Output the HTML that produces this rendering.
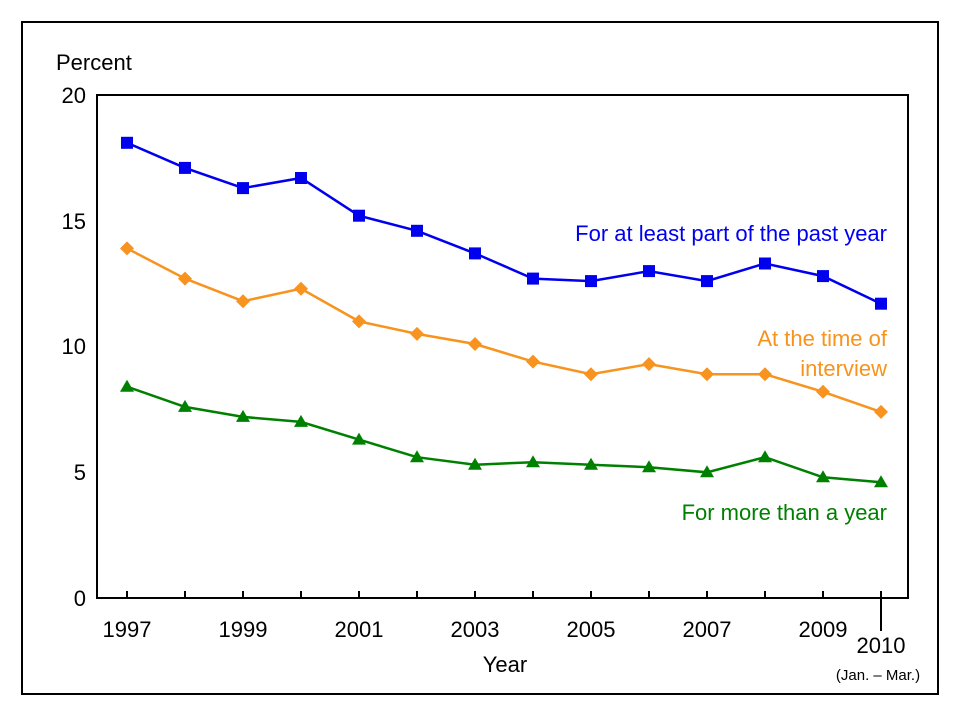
<!DOCTYPE html>
<html><head><meta charset="utf-8"><style>body{margin:0;background:#fff}svg{display:block}</style></head><body>
<svg width="960" height="720" xmlns="http://www.w3.org/2000/svg" xmlns:xlink="http://www.w3.org/1999/xlink" font-family="Liberation Sans, sans-serif">
<defs>
<rect id="sq" x="-6" y="-6" width="12" height="12" fill="#0000ee"/>
<polygon id="di" points="0,-7 7,0 0,7 -7,0" fill="#f7931e"/>
<polygon id="tr" points="0,-7 7,5 -7,5" fill="#008000"/>
</defs>
<rect x="22" y="22" width="916" height="672" fill="none" stroke="#000" stroke-width="2"/>
<rect x="97" y="95" width="811" height="503" fill="none" stroke="#000" stroke-width="2"/>
<g stroke="#000" stroke-width="2">
<line x1="127" y1="591" x2="127" y2="598"/><line x1="185" y1="591" x2="185" y2="598"/><line x1="243" y1="591" x2="243" y2="598"/><line x1="301" y1="591" x2="301" y2="598"/><line x1="359" y1="591" x2="359" y2="598"/><line x1="417" y1="591" x2="417" y2="598"/><line x1="475" y1="591" x2="475" y2="598"/><line x1="533" y1="591" x2="533" y2="598"/><line x1="591" y1="591" x2="591" y2="598"/><line x1="649" y1="591" x2="649" y2="598"/><line x1="707" y1="591" x2="707" y2="598"/><line x1="765" y1="591" x2="765" y2="598"/><line x1="823" y1="591" x2="823" y2="598"/><line x1="881" y1="591" x2="881" y2="631"/>
</g>
<g font-size="22" fill="#000">
<text x="56" y="70">Percent</text>
<text x="86" y="103" text-anchor="end">20</text>
<text x="86" y="229" text-anchor="end">15</text>
<text x="86" y="354" text-anchor="end">10</text>
<text x="86" y="480" text-anchor="end">5</text>
<text x="86" y="606" text-anchor="end">0</text>
<g text-anchor="middle">
<text x="127" y="637">1997</text><text x="243" y="637">1999</text><text x="359" y="637">2001</text><text x="475" y="637">2003</text><text x="591" y="637">2005</text><text x="707" y="637">2007</text><text x="823" y="637">2009</text><text x="881" y="653">2010</text>
<text x="505" y="672">Year</text>
</g>
<text x="878" y="680" font-size="15" text-anchor="middle">(Jan. – Mar.)</text>
<text x="887" y="241" text-anchor="end" fill="#0000ee">For at least part of the past year</text>
<text x="887" y="346" text-anchor="end" fill="#f7931e">At the time of</text>
<text x="887" y="376" text-anchor="end" fill="#f7931e">interview</text>
<text x="887" y="520" text-anchor="end" fill="#008000">For more than a year</text>
</g>
<g fill="none" stroke-width="2.5">
<polyline stroke="#0000ee" points="127,142.8 185,167.9 243,188.1 301,178 359,215.7 417,230.8 475,253.4 533,278.6 591,281.1 649,271.1 707,281.1 765,263.5 823,276.1 881,303.7"/>
<polyline stroke="#f7931e" points="127,248.4 185,278.6 243,301.2 301,288.7 359,321.4 417,333.9 475,344 533,361.6 591,374.2 649,364.1 707,374.2 765,374.2 823,391.8 881,411.9"/>
<polyline stroke="#008000" points="127,386.7 185,406.9 243,416.9 301,421.9 359,439.6 417,457.2 475,464.7 533,462.2 591,464.7 649,467.2 707,472.3 765,457.2 823,477.3 881,482.3"/>
</g>
<use xlink:href="#sq" x="127" y="142.8"/><use xlink:href="#sq" x="185" y="167.9"/><use xlink:href="#sq" x="243" y="188.1"/><use xlink:href="#sq" x="301" y="178"/><use xlink:href="#sq" x="359" y="215.7"/><use xlink:href="#sq" x="417" y="230.8"/><use xlink:href="#sq" x="475" y="253.4"/><use xlink:href="#sq" x="533" y="278.6"/><use xlink:href="#sq" x="591" y="281.1"/><use xlink:href="#sq" x="649" y="271.1"/><use xlink:href="#sq" x="707" y="281.1"/><use xlink:href="#sq" x="765" y="263.5"/><use xlink:href="#sq" x="823" y="276.1"/><use xlink:href="#sq" x="881" y="303.7"/>
<use xlink:href="#di" x="127" y="248.4"/><use xlink:href="#di" x="185" y="278.6"/><use xlink:href="#di" x="243" y="301.2"/><use xlink:href="#di" x="301" y="288.7"/><use xlink:href="#di" x="359" y="321.4"/><use xlink:href="#di" x="417" y="333.9"/><use xlink:href="#di" x="475" y="344"/><use xlink:href="#di" x="533" y="361.6"/><use xlink:href="#di" x="591" y="374.2"/><use xlink:href="#di" x="649" y="364.1"/><use xlink:href="#di" x="707" y="374.2"/><use xlink:href="#di" x="765" y="374.2"/><use xlink:href="#di" x="823" y="391.8"/><use xlink:href="#di" x="881" y="411.9"/>
<use xlink:href="#tr" x="127" y="386.7"/><use xlink:href="#tr" x="185" y="406.9"/><use xlink:href="#tr" x="243" y="416.9"/><use xlink:href="#tr" x="301" y="421.9"/><use xlink:href="#tr" x="359" y="439.6"/><use xlink:href="#tr" x="417" y="457.2"/><use xlink:href="#tr" x="475" y="464.7"/><use xlink:href="#tr" x="533" y="462.2"/><use xlink:href="#tr" x="591" y="464.7"/><use xlink:href="#tr" x="649" y="467.2"/><use xlink:href="#tr" x="707" y="472.3"/><use xlink:href="#tr" x="765" y="457.2"/><use xlink:href="#tr" x="823" y="477.3"/><use xlink:href="#tr" x="881" y="482.3"/>
</svg>
</body></html>
